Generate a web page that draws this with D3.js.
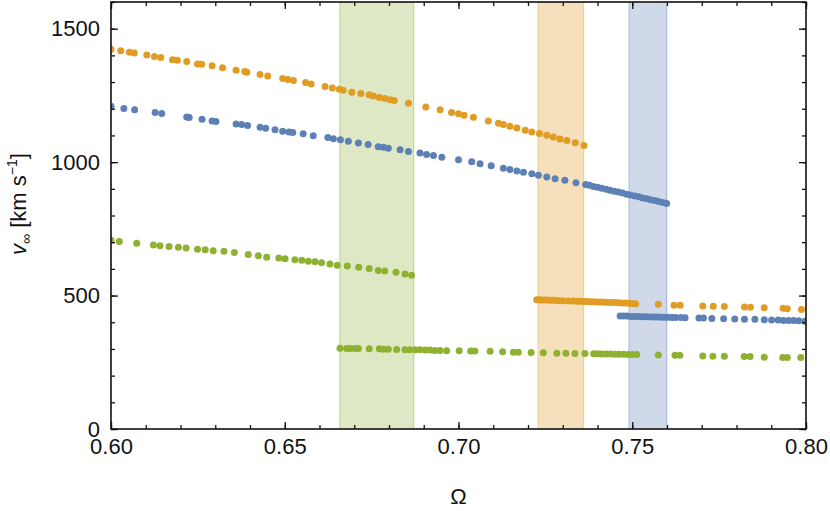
<!DOCTYPE html>
<html>
<head>
	<title>v_inf vs Omega</title>
	<meta charset='utf-8'>
	<style>
		body {
			margin: 0;
			background: #fff;
		}

		svg text {
			font-family: 'Liberation Sans', Arial, sans-serif;
			fill: #111;
		}

		.axis path.domain {
			stroke: none;
		}

		.axis .tick line {
			stroke: #111;
			stroke-width: 1.3px;
		}

		.axis .tick text {
			font-size: 22px;
		}

		.frame {
			fill: none;
			stroke: #111;
			stroke-width: 1.6px;
		}
	</style>
</head>
<body>

<script src='https://d3js.org/d3.v7.min.js'></script>
<script>
	'use strict';
	const margin = {top: 2, right: 24, bottom: 82, left: 111};
	const width = 830 - margin.left - margin.right;
	const height = 511 - margin.top - margin.bottom;

	// Ω ranges of the shaded bands
	const bandGreen = [0.6659, 0.6871];
	const bandOrange = [0.7229, 0.7360];
	const bandBlue = [0.7491, 0.7599];

	// [Ω, v]
	const orangeUpper = [
		[0.6000,1423],[0.6028,1417],[0.6053,1412],[0.6067,1409],[0.6103,1401],[0.6125,1396],[0.6143,1392],
		[0.6177,1384],[0.6191,1382],[0.6218,1377],[0.6249,1368],[0.6261,1367],[0.6291,1361],[0.6321,1354],
		[0.6360,1344],[0.6385,1340],[0.6391,1337],[0.6429,1328],[0.6451,1323],[0.6494,1313],[0.6509,1310],
		[0.6525,1306],[0.6560,1298],[0.6576,1293],[0.6616,1283],[0.6637,1278],[0.6657,1273],[0.6668,1269],
		[0.6693,1262],[0.6719,1257],[0.6743,1252],[0.6755,1248],[0.6772,1242],[0.6788,1238],[0.6803,1234],
		[0.6815,1231],[0.6856,1221],[0.6906,1207],[0.6947,1196],[0.6980,1186],[0.7000,1181],[0.7016,1176],
		[0.7043,1168],[0.7086,1154],[0.7115,1146],[0.7129,1141],[0.7148,1134],[0.7168,1128],[0.7192,1119],
		[0.7211,1113],[0.7233,1107],[0.7254,1101],[0.7273,1094],[0.7292,1087],[0.7312,1081],[0.7336,1073],
		[0.7361,1062]
	];
	const orangeLower = [
		[0.7225,484],[0.7233,484],[0.7240,483],[0.7248,483],[0.7256,483],[0.7264,482],[0.7272,482],
		[0.7280,482],[0.7288,481],[0.7300,481],[0.7316,480],[0.7330,480],[0.7340,479],[0.7350,479],
		[0.7360,478],[0.7370,478],[0.7380,477],[0.7390,477],[0.7400,476],[0.7410,476],[0.7420,475],
		[0.7430,475],[0.7440,474],[0.7450,474],[0.7460,473],[0.7470,472],[0.7480,472],[0.7490,471],
		[0.7500,470],[0.7510,469],[0.7575,467],[0.7620,464],[0.7638,464],[0.7703,461],[0.7733,460],
		[0.7765,459],[0.7823,457],[0.7840,456],[0.7880,454],[0.7934,452],[0.7946,451],[0.7987,448]
	];
	const blueUpper = [
		[0.6000,1209],[0.6037,1201],[0.6068,1196],[0.6127,1186],[0.6146,1182],[0.6218,1169],[0.6225,1167],
		[0.6262,1161],[0.6291,1154],[0.6302,1152],[0.6360,1143],[0.6376,1141],[0.6393,1137],[0.6429,1131],
		[0.6445,1127],[0.6472,1121],[0.6494,1116],[0.6512,1113],[0.6523,1111],[0.6553,1106],[0.6582,1099],
		[0.6624,1092],[0.6640,1088],[0.6660,1084],[0.6683,1078],[0.6712,1072],[0.6740,1066],[0.6769,1058],
		[0.6784,1056],[0.6798,1052],[0.6832,1046],[0.6856,1040],[0.6889,1034],[0.6908,1029],[0.6928,1025],
		[0.6952,1018],[0.7000,1009],[0.7038,1001],[0.7062,994],[0.7094,986],[0.7129,977],[0.7148,972],
		[0.7168,967],[0.7187,962],[0.7211,956],[0.7230,951],[0.7254,944],[0.7278,938],[0.7306,932],
		[0.7338,923],[0.7366,916],[0.7377,913],[0.7388,909],[0.7400,906],[0.7412,902],[0.7425,898],
		[0.7436,895],[0.7448,891],[0.7460,888],[0.7472,884],[0.7484,880],[0.7495,877],[0.7507,873],
		[0.7519,870],[0.7530,866],[0.7542,863],[0.7553,859],[0.7565,856],[0.7576,852],[0.7588,849],
		[0.7599,845]
	];
	const blueLower = [
		[0.7465,423],[0.7475,423],[0.7485,423],[0.7495,422],[0.7505,422],[0.7515,422],[0.7525,421],
		[0.7535,421],[0.7545,421],[0.7555,420],[0.7565,420],[0.7575,420],[0.7585,419],[0.7595,419],
		[0.7605,419],[0.7615,418],[0.7625,418],[0.7640,418],[0.7652,417],[0.7692,416],[0.7705,416],
		[0.7729,414],[0.7763,413],[0.7795,412],[0.7823,411],[0.7853,411],[0.7880,409],[0.7901,408],
		[0.7920,408],[0.7935,407],[0.7950,407],[0.7964,407],[0.7979,406],[0.7997,404]
	];
	const greenUpper = [
		[0.6000,707],[0.6024,703],[0.6074,696],[0.6122,689],[0.6141,687],[0.6167,684],[0.6194,681],
		[0.6216,678],[0.6249,674],[0.6271,672],[0.6294,668],[0.6325,666],[0.6355,661],[0.6395,654],
		[0.6424,649],[0.6448,644],[0.6483,641],[0.6501,638],[0.6529,634],[0.6549,632],[0.6568,629],
		[0.6587,627],[0.6606,623],[0.6630,618],[0.6651,614],[0.6680,611],[0.6713,606],[0.6743,601],
		[0.6769,594],[0.6788,592],[0.6820,587],[0.6846,581],[0.6865,576]
	];
	const greenLower = [
		[0.6659,303],[0.6678,302],[0.6688,302],[0.6702,302],[0.6712,302],[0.6743,301],[0.6772,301],
		[0.6784,299],[0.6798,299],[0.6822,298],[0.6846,297],[0.6860,297],[0.6875,297],[0.6889,297],
		[0.6904,296],[0.6918,296],[0.6932,294],[0.6947,294],[0.6966,293],[0.7002,293],[0.7035,292],
		[0.7047,292],[0.7091,291],[0.7127,289],[0.7158,288],[0.7172,288],[0.7209,287],[0.7244,286],
		[0.7283,284],[0.7309,284],[0.7335,283],[0.7364,283],[0.7389,282],[0.7400,282],[0.7412,281],
		[0.7425,281],[0.7437,281],[0.7450,280],[0.7462,280],[0.7475,280],[0.7488,279],[0.7500,279],
		[0.7513,279],[0.7575,277],[0.7623,276],[0.7637,276],[0.7703,274],[0.7732,273],[0.7765,273],
		[0.7822,272],[0.7839,272],[0.7880,269],[0.7933,268],[0.7946,268],[0.7985,268]
	];

	const xMajor = [0.60, 0.65, 0.70, 0.75, 0.80];
	const yMajor = [0, 500, 1000, 1500];

	const xScale = d3.scaleLinear().domain([0.6, 0.8]).range([0, width]);
	const yScale = d3.scaleLinear().domain([0, 1600]).range([height, 0]);

	const svg = d3.select('body').append('svg')
		.attr('width', 830)
		.attr('height', 511)
		.append('g')
		.attr('transform', 'translate(' + margin.left + ',' + margin.top + ')');

	svg.append('clipPath').attr('id', 'clip')
		.append('rect').attr('width', width).attr('height', height);

	const plot = svg.append('g').attr('clip-path', 'url(#clip)');

	// полосы
	const bands = [
		{r: bandGreen, fill: '#dfe8c4', edge: '#c3d597'},
		{r: bandOrange, fill: '#f6e0bc', edge: '#efcf9c'},
		{r: bandBlue, fill: '#cfd9e9', edge: '#a9bcdb'}
	];
	bands.forEach(function(b) {
		plot.append('rect')
			.attr('x', xScale(b.r[0]))
			.attr('y', 0)
			.attr('width', xScale(b.r[1]) - xScale(b.r[0]))
			.attr('height', height)
			.attr('fill', b.fill);
		b.r.forEach(function(v) {
			plot.append('line')
				.attr('x1', xScale(v)).attr('x2', xScale(v))
				.attr('y1', 0).attr('y2', height)
				.attr('stroke', b.edge)
				.attr('stroke-width', 1.2);
		});
	});

	// точки
	const series = [
		{data: greenUpper, color: '#8fb131'},
		{data: greenLower, color: '#8fb131'},
		{data: blueUpper, color: '#5e81b5'},
		{data: blueLower, color: '#5e81b5'},
		{data: orangeUpper, color: '#e19c24'},
		{data: orangeLower, color: '#e19c24'}
	];
	series.forEach(function(s) {
		plot.selectAll(null)
			.data(s.data)
			.enter()
			.append('circle')
			.attr('cx', function(d) {return xScale(d[0]);})
			.attr('cy', function(d) {return yScale(d[1]);})
			.attr('r', 3.5)
			.attr('fill', s.color);
	});

	// оси: большие и малые засечки со всех сторон
	const xMinor = d3.range(0.60, 0.8001, 0.01);
	const yMinor = d3.range(0, 1601, 100);

	svg.append('g').attr('class', 'axis')
		.attr('transform', 'translate(0,' + height + ')')
		.call(d3.axisBottom(xScale).tickValues(xMinor).tickSize(-4).tickFormat(''));
	svg.append('g').attr('class', 'axis')
		.attr('transform', 'translate(0,' + height + ')')
		.call(d3.axisBottom(xScale).tickValues(xMajor).tickSize(-7).tickPadding(9)
			.tickFormat(d3.format('.2f')));
	svg.append('g').attr('class', 'axis')
		.call(d3.axisTop(xScale).tickValues(xMinor).tickSize(-4).tickFormat(''));
	svg.append('g').attr('class', 'axis')
		.call(d3.axisTop(xScale).tickValues(xMajor).tickSize(-7).tickFormat(''));

	svg.append('g').attr('class', 'axis')
		.call(d3.axisLeft(yScale).tickValues(yMinor).tickSize(-4).tickFormat(''));
	svg.append('g').attr('class', 'axis')
		.call(d3.axisLeft(yScale).tickValues(yMajor).tickSize(-7).tickPadding(11)
			.tickFormat(d3.format('d')));
	svg.append('g').attr('class', 'axis')
		.attr('transform', 'translate(' + width + ',0)')
		.call(d3.axisRight(yScale).tickValues(yMinor).tickSize(-4).tickFormat(''));
	svg.append('g').attr('class', 'axis')
		.attr('transform', 'translate(' + width + ',0)')
		.call(d3.axisRight(yScale).tickValues(yMajor).tickSize(-7).tickFormat(''));

	svg.append('rect')
		.attr('class', 'frame')
		.attr('width', width)
		.attr('height', height);

	// подписи осей
	svg.append('text')
		.attr('x', width / 2)
		.attr('y', height + 75)
		.attr('text-anchor', 'middle')
		.style('font-size', '22px')
		.text('Ω');

	const yLabel = svg.append('text')
		.attr('transform', 'translate(' + (26 - margin.left) + ',' + (204 - margin.top) + ') rotate(-90)')
		.attr('text-anchor', 'middle')
		.style('font-size', '22px');
	yLabel.append('tspan').style('font-style', 'italic').text('v');
	yLabel.append('tspan').attr('dy', 5).style('font-size', '14px').text('∞');
	yLabel.append('tspan').attr('dy', -5).text(' [km s');
	yLabel.append('tspan').attr('dy', -9).style('font-size', '14px').text('−1');
	yLabel.append('tspan').attr('dy', 9).text(']');

</script>
</body>
</html>
